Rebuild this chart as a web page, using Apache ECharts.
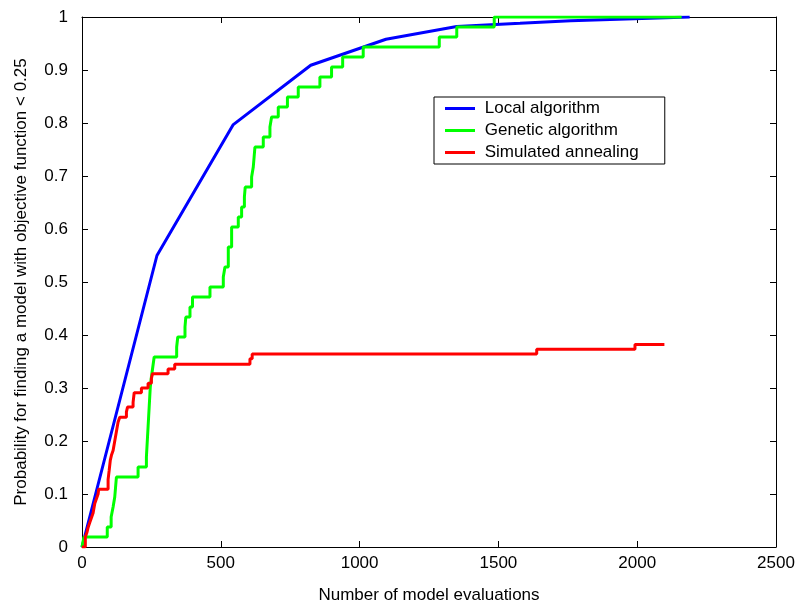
<!DOCTYPE html>
<html>
<head>
<meta charset="utf-8">
<script src="https://cdn.jsdelivr.net/npm/echarts@6/dist/echarts.min.js"></script>
<style>
    html, body { margin: 0; padding: 0; background: #fff; }
    #chart { width: 799px; height: 604px; }
</style>
</head>
<body>
<div id="chart"></div>
<script>
    // 数据 (x = 评估次数, y = 概率)
    var xTicks = [0, 500, 1000, 1500, 2000, 2500];
    var yTicks = [0, 0.1, 0.2, 0.3, 0.4, 0.5, 0.6, 0.7, 0.8, 0.9, 1];

    var localX = [0, 270, 545, 824, 1095, 1350, 1578, 1760, 2189];
    var localY = [0, 0.55, 0.797, 0.909, 0.958, 0.982, 0.988, 0.993, 1.0];

    // 遗传算法: 阶梯, 分母 53
    var geneticX = [0, 7, 91, 105, 112, 118, 121, 124, 202, 232, 234, 236, 238, 240, 242, 244, 246, 250, 255, 260,
        341, 345, 371, 374, 389, 398, 461, 509, 515, 527, 539, 563, 575, 585, 588, 611, 617, 620, 623,
        653, 677, 683, 707, 740, 779, 857, 899, 939, 1013, 1287, 1350, 1485, 2160];
    var geneticK = [0, 1, 2, 3, 4, 5, 6, 7, 8, 9, 10, 11, 12, 13, 14, 15, 16, 17, 18, 19,
        20, 21, 22, 23, 24, 25, 26, 27, 28, 30, 32, 33, 34, 35, 36, 37, 38, 39, 40,
        41, 42, 43, 44, 45, 46, 47, 48, 49, 50, 51, 52, 53, 53];

    // 模拟退火: 阶梯
    var annealX = [0, 7, 12, 18, 22, 28, 34, 40, 46, 52, 58, 60, 94, 98, 102, 106, 112, 118, 124, 130, 136,
        160, 164, 184, 188, 214, 238, 250, 254, 310, 334, 605, 613, 1638, 1992, 2098];
    var annealY = [0, 0, 0.019, 0.028, 0.037, 0.046, 0.055, 0.064, 0.082, 0.091, 0.1, 0.109, 0.127, 0.145, 0.164,
        0.173, 0.182, 0.2, 0.218, 0.236, 0.245, 0.255, 0.264, 0.273, 0.291, 0.3, 0.309, 0.318, 0.327, 0.336,
        0.345, 0.355, 0.364, 0.373, 0.382, 0.382];

    function zip(xs, ys) {
        var out = [];
        for (var i = 0; i < xs.length; i++) {
            out.push([xs[i], ys[i]]);
        }
        return out;
    }

    var geneticY = geneticK.map(function (k) { return k / 53; });

    var font = 'Liberation Sans, Arial, Helvetica, sans-serif';
    var axisLine = { show: true, onZero: false, lineStyle: { color: '#000', width: 1 } };
    var axisTick = { show: true, inside: true, length: 6, lineStyle: { color: '#000' } };
    var lineIcon = 'path://M0,0 L30,0 L30,3 L0,3 Z';

    var myChart = echarts.init(document.getElementById('chart'), null, { renderer: 'canvas' });
    var option = {
        backgroundColor: '#fff',
        animation: false,
        textStyle: { fontFamily: font },
        grid: { left: 82, top: 17, right: 23, bottom: 57, containLabel: false, outerBoundsMode: 'none' },
        legend: {
            orient: 'vertical',
            left: 434,
            top: 97,
            padding: [3, 26, 3, 11],
            icon: lineIcon,
            itemWidth: 30,
            itemHeight: 3,
            itemGap: 5,
            borderColor: '#000',
            borderWidth: 1,
            borderRadius: 0,
            backgroundColor: '#fff',
            formatter: function (name) { return ' ' + name; },
            textStyle: { fontFamily: font, fontSize: 17, lineHeight: 17, color: '#000' },
            data: ['Local algorithm', 'Genetic algorithm', 'Simulated annealing']
        },
        xAxis: [
            {
                type: 'value',
                min: xTicks[0],
                max: xTicks[xTicks.length - 1],
                interval: 500,
                position: 'bottom',
                name: 'Number of model evaluations',
                nameLocation: 'middle',
                nameGap: 40,
                nameTextStyle: { fontFamily: font, fontSize: 17, color: '#000' },
                axisLine: axisLine,
                axisTick: axisTick,
                axisLabel: {
                    fontFamily: font, fontSize: 17, color: '#000', margin: 8,
                    formatter: function (v) { return String(v); }
                },
                splitLine: { show: false }
            },
            {
                type: 'value',
                min: xTicks[0],
                max: xTicks[xTicks.length - 1],
                interval: 500,
                position: 'top',
                axisLine: axisLine,
                axisTick: axisTick,
                axisLabel: { show: false },
                splitLine: { show: false }
            }
        ],
        yAxis: [
            {
                type: 'value',
                min: yTicks[0],
                max: yTicks[yTicks.length - 1],
                interval: 0.1,
                position: 'left',
                name: 'Probability for finding a model with objective function < 0.25',
                nameLocation: 'middle',
                nameGap: 52,
                nameTextStyle: { fontFamily: font, fontSize: 17, color: '#000' },
                axisLine: axisLine,
                axisTick: axisTick,
                axisLabel: {
                    fontFamily: font, fontSize: 17, color: '#000', margin: 14,
                    formatter: function (v) { return String(Math.round(v * 10) / 10); }
                },
                splitLine: { show: false }
            },
            {
                type: 'value',
                min: yTicks[0],
                max: yTicks[yTicks.length - 1],
                interval: 0.1,
                position: 'right',
                axisLine: axisLine,
                axisTick: axisTick,
                axisLabel: { show: false },
                splitLine: { show: false }
            }
        ],
        series: [
            {
                name: 'Local algorithm',
                type: 'line',
                symbol: 'none',
                color: '#0000ff',
                lineStyle: { width: 3, color: '#0000ff' },
                data: zip(localX, localY)
            },
            {
                name: 'Genetic algorithm',
                type: 'line',
                symbol: 'none',
                step: 'end',
                color: '#00ff00',
                lineStyle: { width: 3, color: '#00ff00' },
                data: zip(geneticX, geneticY)
            },
            {
                name: 'Simulated annealing',
                type: 'line',
                symbol: 'none',
                step: 'end',
                color: '#ff0000',
                lineStyle: { width: 3, color: '#ff0000' },
                data: zip(annealX, annealY)
            }
        ]
    };
    myChart.setOption(option);
</script>
</body>
</html>
